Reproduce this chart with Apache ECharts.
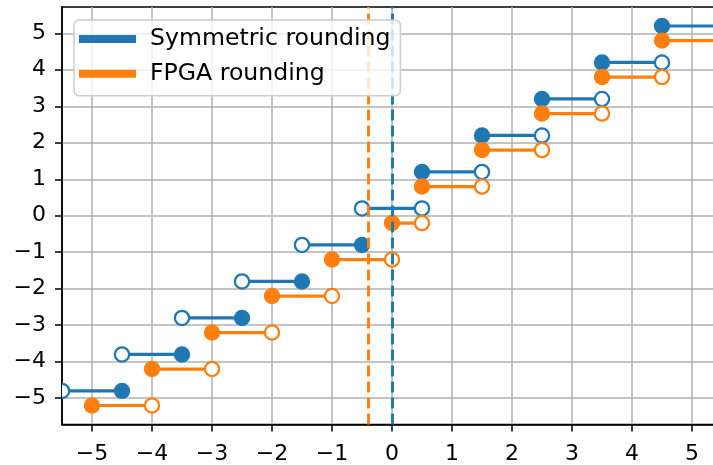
<!DOCTYPE html>
<html>
<head>
<meta charset="utf-8">
<script src="https://cdn.jsdelivr.net/npm/echarts@6/dist/echarts.min.js"></script>
<style>
  html, body { margin: 0; padding: 0; background: #fff; }
  #chart { width: 713px; height: 465px; }
</style>
</head>
<body>
<div id="chart"></div>
<script>
// Tick positions on both axes
const xTicks = [-5, -4, -3, -2, -1, 0, 1, 2, 3, 4, 5];
const yTicks = [-5, -4, -3, -2, -1, 0, 1, 2, 3, 4, 5];

// Symmetric rounding: step start/end, output level (shifted +0.2 for visibility), endpoint style
const symStart = [-5.5, -4.5, -3.5, -2.5, -1.5, -0.5, 0.5, 1.5, 2.5, 3.5, 4.5];
const symEnd   = [-4.5, -3.5, -2.5, -1.5, -0.5, 0.5, 1.5, 2.5, 3.5, 4.5, 5.5];
const symLevel = [-4.8, -3.8, -2.8, -1.8, -0.8, 0.2, 1.2, 2.2, 3.2, 4.2, 5.2];
const symStartMark = ['open', 'open', 'open', 'open', 'open', 'open', 'filled', 'filled', 'filled', 'filled', 'filled'];
const symEndMark   = ['filled', 'filled', 'filled', 'filled', 'filled', 'open', 'open', 'open', 'open', 'open', 'open'];

// FPGA rounding: step start/end, output level (shifted -0.2 for visibility), endpoint style
const fpgaStart = [-5, -4, -3, -2, -1, 0, 0.5, 1.5, 2.5, 3.5, 4.5];
const fpgaEnd   = [-4, -3, -2, -1, 0, 0.5, 1.5, 2.5, 3.5, 4.5, 5.5];
const fpgaLevel = [-5.2, -4.2, -3.2, -2.2, -1.2, -0.2, 0.8, 1.8, 2.8, 3.8, 4.8];
const fpgaStartMark = ['filled', 'filled', 'filled', 'filled', 'filled', 'filled', 'filled', 'filled', 'filled', 'filled', 'filled'];
const fpgaEndMark   = ['open', 'open', 'open', 'open', 'open', 'open', 'open', 'open', 'open', 'open', 'open'];

// Zero-crossing thresholds drawn as dashed verticals
const symThreshold = 0;
const fpgaThreshold = -0.4;

const BLUE = '#1f77b4';
const ORANGE = '#ff7f0e';
const FONT = 'DejaVu Sans';

const fmt = v => String(v).replace('-', '\u2212');

function stepData(starts, ends, levels) {
  return starts.map((s, i) => [s, ends[i], levels[i]]);
}

function stepRenderer(color, startMarks, endMarks) {
  return function (params, api) {
    const i = params.dataIndex;
    const p0 = api.coord([api.value(0), api.value(2)]);
    const p1 = api.coord([api.value(1), api.value(2)]);
    const children = [{
      type: 'line',
      shape: { x1: p0[0], y1: p0[1], x2: p1[0], y2: p1[1] },
      style: { stroke: color, lineWidth: 3.2 }
    }];
    [[p0, startMarks[i]], [p1, endMarks[i]]].forEach(([p, m]) => {
      if (m === 'filled') {
        children.push({ type: 'circle', shape: { cx: p[0], cy: p[1], r: 8.2 }, style: { fill: color } });
      } else if (m === 'open') {
        children.push({ type: 'circle', shape: { cx: p[0], cy: p[1], r: 7.1 },
          style: { fill: '#fff', stroke: color, lineWidth: 2.3 } });
      }
    });
    return { type: 'group', children };
  };
}

// Dashed vertical threshold, kept below the legend box
function thresholdLine(x, color) {
  return {
    type: 'line',
    data: [],
    z: 3,
    silent: true,
    markLine: {
      z: 3,
      silent: true,
      symbol: 'none',
      label: { show: false },
      lineStyle: { color: color, width: 2.9, type: [11, 5] },
      data: [{ xAxis: x }]
    }
  };
}

const chart = echarts.init(document.getElementById('chart'), null, { renderer: 'canvas' });
chart.setOption({
  animation: false,
  backgroundColor: '#fff',
  grid: {
    left: 62, right: -9, top: 7, bottom: 40.5,
    show: true, borderColor: '#000', borderWidth: 1.5, backgroundColor: '#fff',
    outerBoundsMode: 'none'
  },
  legend: {
    left: 74, top: 20, orient: 'vertical', z: 8,
    padding: [6, 10, 9, 5],
    itemGap: 8.7, itemWidth: 57, itemHeight: 8,
    backgroundColor: 'rgba(255,255,255,0.8)',
    borderColor: '#cccccc', borderWidth: 1.5, borderRadius: 5,
    textStyle: { fontFamily: FONT, fontSize: 23.6, color: '#000', lineHeight: 26, padding: [0, 0, 0, 9] },
    data: [
      { name: 'Symmetric rounding', icon: 'rect', itemStyle: { color: BLUE } },
      { name: 'FPGA rounding', icon: 'rect', itemStyle: { color: ORANGE } }
    ]
  },
  xAxis: {
    type: 'value', min: -5.5, max: 5.5,
    axisLine: { onZero: false, lineStyle: { color: '#000', width: 1.5 } },
    axisTick: { customValues: xTicks, length: 7, lineStyle: { color: '#000', width: 1.5 } },
    axisLabel: { customValues: xTicks, formatter: fmt, fontFamily: FONT, fontSize: 22, color: '#000', margin: 19 },
    splitLine: { show: true, lineStyle: { color: '#b0b0b0', width: 1.5 } }
  },
  yAxis: {
    type: 'value', min: -5.72, max: 5.72,
    axisLine: { onZero: false, lineStyle: { color: '#000', width: 1.5 } },
    axisTick: { customValues: yTicks, length: 7, lineStyle: { color: '#000', width: 1.5 } },
    axisLabel: { customValues: yTicks, formatter: fmt, fontFamily: FONT, fontSize: 22, color: '#000', margin: 16 },
    splitLine: { show: true, lineStyle: { color: '#b0b0b0', width: 1.5 } }
  },
  series: [
    {
      name: 'Symmetric rounding', type: 'custom', color: BLUE, clip: true, z: 2,
      encode: { x: [0, 1], y: 2 },
      data: stepData(symStart, symEnd, symLevel),
      renderItem: stepRenderer(BLUE, symStartMark, symEndMark)
    },
    {
      name: 'FPGA rounding', type: 'custom', color: ORANGE, clip: true, z: 2,
      encode: { x: [0, 1], y: 2 },
      data: stepData(fpgaStart, fpgaEnd, fpgaLevel),
      renderItem: stepRenderer(ORANGE, fpgaStartMark, fpgaEndMark)
    },
    thresholdLine(fpgaThreshold, ORANGE),
    thresholdLine(symThreshold, BLUE)
  ]
});
</script>
</body>
</html>
